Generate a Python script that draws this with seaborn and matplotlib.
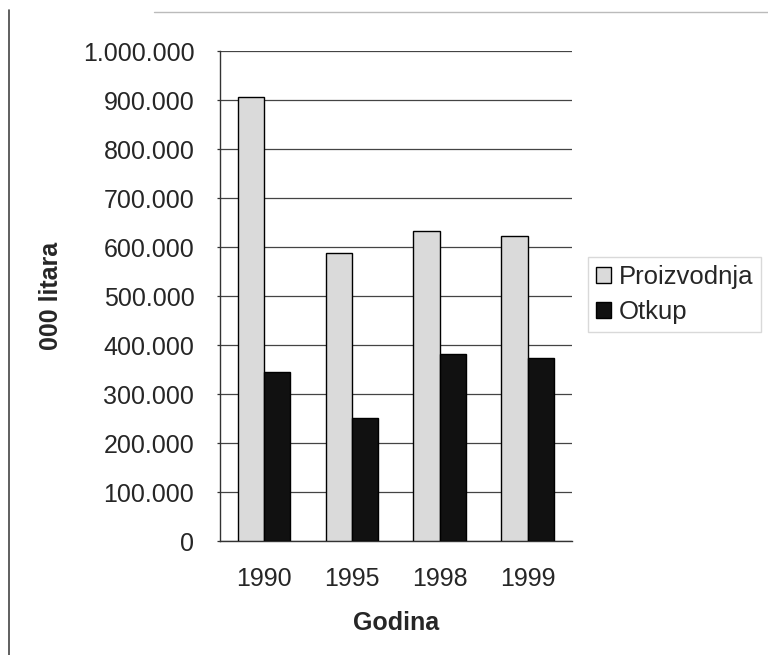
import matplotlib
matplotlib.use("Agg")
import matplotlib.pyplot as plt
from matplotlib.ticker import FuncFormatter, MultipleLocator
import pandas as pd
import seaborn as sns

# podaci procitani sa grafika (000 litara)
godine = ["1990", "1995", "1998", "1999"]
proizvodnja = [907000, 587000, 633000, 622000]
otkup = [344000, 252000, 381000, 373000]
serije = ["Proizvodnja", "Otkup"]
boje = ["#dadada", "#111111"]

df = pd.DataFrame({
    "Godina": godine * 2,
    "Vrijednost": proizvodnja + otkup,
    "Serija": [serije[0]] * len(godine) + [serije[1]] * len(godine),
})

sns.set_style("white")
plt.rcParams['font.family'] = ['Liberation Sans', 'DejaVu Sans']

fig = plt.figure(figsize=(7.68, 6.55), dpi=100)
ax = fig.add_axes([0.2865, 0.174, 0.458, 0.748])

sns.barplot(data=df, x="Godina", y="Vrijednost", hue="Serija",
            palette=boje, width=0.6, edgecolor="black", linewidth=1.0,
            saturation=1, ax=ax, zorder=3)

ax.set_ylim(0, 1000000)
ax.set_xlim(-0.5, len(godine) - 0.5)
ax.yaxis.set_major_locator(MultipleLocator(100000))
ax.yaxis.set_major_formatter(FuncFormatter(lambda v, p: f"{int(v):,}".replace(",", ".")))
ax.grid(axis="y", color="#444444", linewidth=0.9, zorder=0)
ax.set_axisbelow(True)

for s in ["top", "right"]:
    ax.spines[s].set_visible(False)
for s in ["left", "bottom"]:
    ax.spines[s].set_color("#333333")
    ax.spines[s].set_linewidth(1.0)

ax.tick_params(axis="y", direction="out", length=2.5, width=0.9, color="#333333",
               labelsize=18, pad=16, left=True)
ax.tick_params(axis="x", length=0, labelsize=18, pad=19)

ax.set_xlabel("Godina", fontsize=18, fontweight="bold", labelpad=14)
ax.set_ylabel("000 litara", fontsize=18, fontweight="bold", labelpad=14)

handles, labels = ax.get_legend_handles_labels()
ax.legend(handles, labels, loc="upper left", bbox_to_anchor=(0.7656, 0.6076),
          bbox_transform=fig.transFigure, borderaxespad=0,
          fontsize=18.5, frameon=True, edgecolor="#d0d0d0", fancybox=False,
          handlelength=0.6, handleheight=0.6, handletextpad=0.3,
          borderpad=0.3, labelspacing=0.45)

# okvir skeniranog grafika
fig.add_artist(plt.Line2D([0.012, 0.012], [0.0, 0.985], color="#444444", linewidth=1.2))
fig.add_artist(plt.Line2D([0.2, 1.0], [0.982, 0.982], color="#bbbbbb", linewidth=1.0))

fig.savefig("out.png", dpi=100)
